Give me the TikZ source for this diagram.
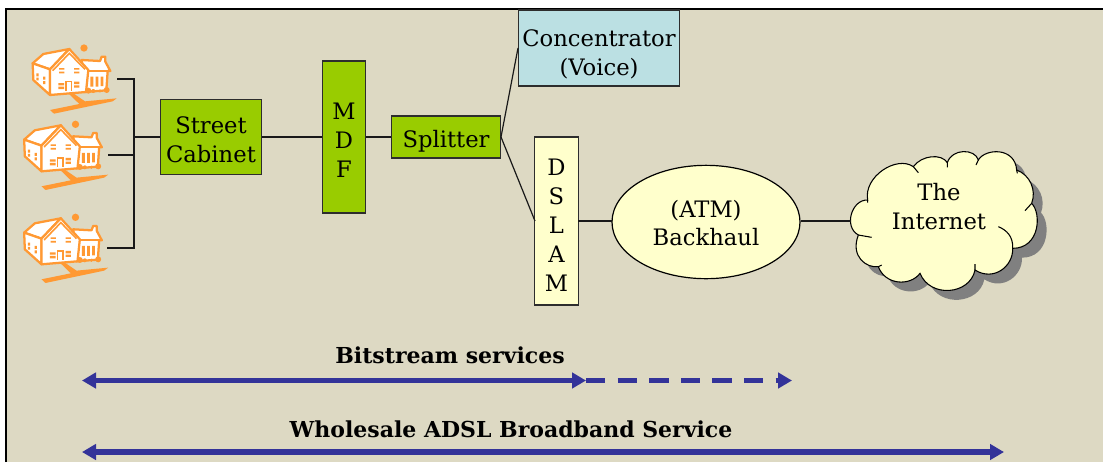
\documentclass[tikz,border=0pt]{standalone}
\usepackage{fontspec}
\setmainfont{DejaVu Serif}
\usetikzlibrary{arrows.meta,shapes.geometric}
\definecolor{bgc}{RGB}{221,217,195}
\definecolor{grn}{RGB}{153,204,0}
\definecolor{blu}{RGB}{187,224,227}
\definecolor{yel}{RGB}{255,255,204}
\definecolor{org}{RGB}{255,153,51}
\definecolor{nav}{RGB}{51,51,153}
\definecolor{edge}{RGB}{45,45,45}
\newcommand{\dn}[1]{\rule{0pt}{#1pt}}
\tikzset{
  boxn/.style={draw=edge,line width=.9pt,inner sep=0pt,align=center,font=\fontsize{17}{21.7}\selectfont},
  greenbox/.style={boxn,fill=grn},
  bluebox/.style={boxn,fill=blu},
  yelbox/.style={boxn,fill=yel},
  conn/.style={draw=black!90,line width=.9pt},
  span/.style={draw=nav,line width=4.1pt,{Triangle[length=10.5pt,width=11.5pt]}-{Triangle[length=10.5pt,width=11.5pt]},color=nav},
  dashspan/.style={draw=nav,line width=4.1pt,dash pattern=on 14.5pt off 9.2pt,-{Triangle[length=10.5pt,width=11.5pt]},color=nav},
  hl/.style={draw=org,line width=1.7pt,fill=white,line join=round},
  lbl/.style={inner sep=0pt,font=\fontsize{16.5}{21.5}\bfseries\selectfont}
}
\newcommand{\drawhouse}[1]{%
\begin{scope}[shift={#1},x=.25pt,y=-.25pt]
  % drive
  \fill[org] (205,280)--(220,280)--(255,304)--(350,295)--(338,304)--(162,341)--(150,330)--(238,312)--cycle;
  % wing
  \draw[hl] (245,180)--(300,183)--(305,170)--(316,170)--(316,185)--(331,213)--(323,213)--(319,271)--(255,276)--cycle;
  \draw[org,line width=1.4pt] (265,213)--(325,213);
  % left roof
  \draw[hl] (98,190)--(130,162)--(208,147)--(150,208)--cycle;
  % left wall
  \draw[hl] (98,190)--(100,240)--(150,285)--(150,208)--cycle;
  % gable
  \draw[hl] (150,208)--(208,147)--(265,210)--(258,276)--(150,285)--cycle;
  \draw[org,line width=1.2pt] (158,212)--(208,160)--(255,208);
  % windows
  \fill[org] (177,204) rectangle (193,209) (177,215) rectangle (193,220);
  \fill[org] (222,204) rectangle (238,209) (222,215) rectangle (238,220);
  \fill[org] (175,249) rectangle (192,256) (175,260) rectangle (192,267);
  \fill[org] (222,245) rectangle (238,252) (222,256) rectangle (238,263);
  \draw[org,line width=1.2pt] (198,272)--(198,245)--(214,245)--(214,272);
  \fill[org] (109,220) rectangle (116,229) (109,233) rectangle (116,241);
  \fill[org] (129,230) rectangle (136,239) (129,243) rectangle (136,252);
  \fill[org] (271,230) rectangle (280,260) (287,230) rectangle (295,260) (302,230) rectangle (310,258);
  % bushes
  \fill[org] (265,272) circle (9) (280,273) circle (6) (300,273) circle (5) (320,270) circle (9);
  % dot
  \fill[org] (252,144) circle (11);
\end{scope}}
\newcommand{\cloudpath}{(85,345) .. controls (40,320) and (65,238) .. (113,240)
 .. controls (100,170) and (200,105) .. (250,140)
 .. controls (275,105) and (335,100) .. (352,128)
 .. controls (365,85) and (435,85) .. (445,120)
 .. controls (465,85) and (555,80) .. (560,150)
 .. controls (600,165) and (620,210) .. (605,250)
 .. controls (635,280) and (630,385) .. (548,385)
 .. controls (550,440) and (490,485) .. (435,450)
 .. controls (420,525) and (300,535) .. (270,460)
 .. controls (240,500) and (165,495) .. (145,440)
 .. controls (110,445) and (60,410) .. (85,345) -- cycle}
\begin{document}
\begin{tikzpicture}[x=.75pt,y=-.75pt]
\useasboundingbox (0,0) rectangle (1103,462);
\fill[white] (0,0) rectangle (1103,462);
\fill[bgc] (6,9) rectangle (1103,462);
\draw[black,line width=1.6pt] (6,462)--(6,9)--(1103,9);

\drawhouse{(0,0)}
\drawhouse{(-8.5,76.3)}
\drawhouse{(-8.5,169.3)}

\begin{scope}[shift={(830,120)},x=.25pt,y=-.25pt]
  \fill[black!50] [shift={(28,28)}] \cloudpath;
  \draw[black,line width=.8pt,fill=yel] \cloudpath;
  \draw[black,line width=.8pt] (250,140)--(265,158) (352,128)--(352,142) (445,120)--(438,135)
    (560,150)--(562,160) (605,250)--(585,272) (435,450)--(435,432) (145,440)--(155,435) (85,345)--(125,352)
    (113,240)--(113,248)
    (548,385) .. controls (550,350) and (530,330) .. (505,320);
\end{scope}

\node[greenbox,minimum width=76pt,minimum height=56.5pt] (cab) at (211,137) {\dn{17.4}Street\\Cabinet};
\node[greenbox,minimum width=32.5pt,minimum height=114pt] (mdf) at (344,137) {\dn{17}M\\D\\F};
\node[greenbox,minimum width=82pt,minimum height=31.5pt] (spl) at (446,137) {\dn{19}Splitter};
\node[bluebox,minimum width=121pt,minimum height=57pt] (con) at (599,48) {\dn{21.9}Concentrator\\(Voice)};
\node[yelbox,minimum width=32.5pt,minimum height=126pt] (dsl) at (556.5,221) {\dn{19}D\\S\\L\\A\\M};
\node[yelbox,shape=ellipse,draw=black,minimum width=141pt,minimum height=85pt] (atm) at (706,222) {\dn{14.5}(ATM)\\Backhaul};
\node[inner sep=0pt,align=center,font=\fontsize{17}{21.7}\selectfont] (cloud) at (939,207) {The\\Internet};

\coordinate (h1) at (117,79);
\coordinate (h2) at (108,155);
\coordinate (h3) at (107,248);
\coordinate (t1) at (134,79);
\coordinate (t2) at (134,155);
\coordinate (t3) at (134,248);
\coordinate (tm) at (134,137);
\coordinate (spe) at (501,137);
\coordinate (conw) at (518,48);
\coordinate (dslw) at (535,221);
\coordinate (dsle) at (578,221);
\coordinate (atmw) at (612,221);
\coordinate (atme) at (801,221);
\coordinate (cloudw) at (851,221);

\draw[conn] (h1)--(t1)--(t3)--(h3);
\draw[conn] (h2)--(t2);
\draw[conn] (tm)--(cab);
\draw[conn] (cab)--(mdf);
\draw[conn] (mdf)--(spl);
\draw[conn] (spe)--(conw);
\draw[conn] (spe)--(dslw);
\draw[conn] (dsle)--(atmw);
\draw[conn] (atme)--(cloudw);

\node[lbl] (bit) at (450,355) {Bitstream services};
\node[lbl] (whl) at (511,429) {Wholesale ADSL Broadband Service};

\coordinate (a1) at (82,380.5);
\coordinate (a2) at (586,380.5);
\coordinate (a3) at (792,380.5);
\coordinate (b1) at (82,452);
\coordinate (b2) at (1004,452);
\draw[dashspan] (a2)--(a3);
\draw[span] (a1)--(a2);
\draw[span] (b1)--(b2);
\end{tikzpicture}
\end{document}
